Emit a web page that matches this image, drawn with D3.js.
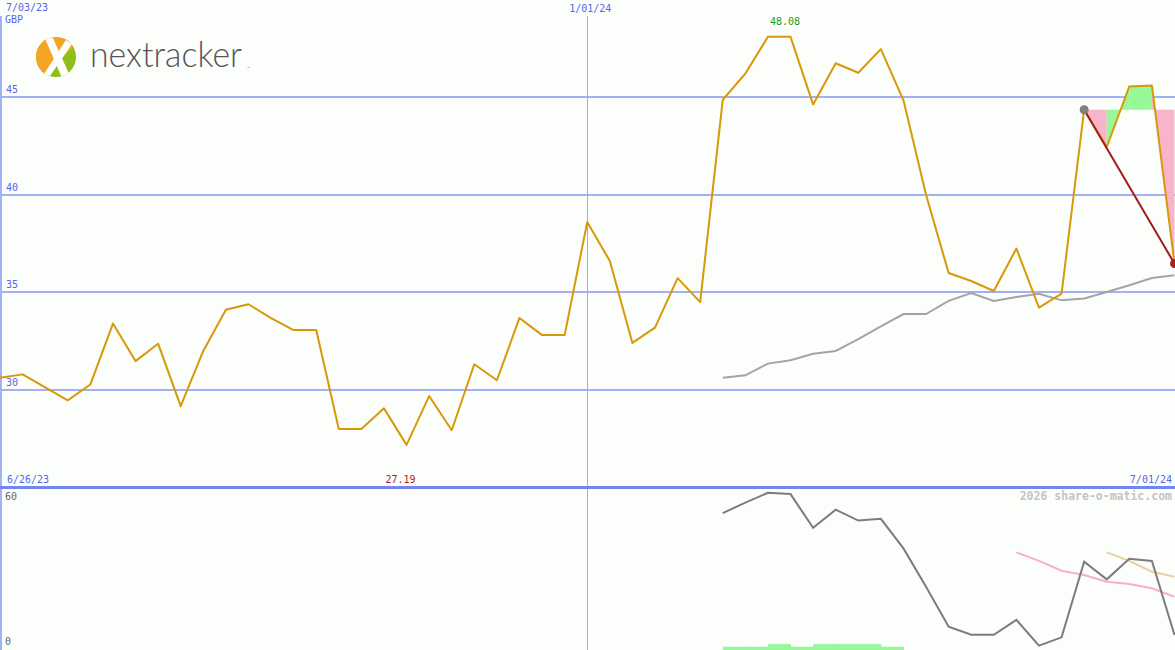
<!DOCTYPE html>
<html><head><meta charset="utf-8">
<script src="https://cdn.jsdelivr.net/npm/d3@7/dist/d3.min.js"></script>
<style>
html,body{margin:0;padding:0;background:#fcfefc;}
svg{display:block;}
</style></head>
<body>
<svg id="c" width="1175" height="650"></svg>
<script>
// ---- data ----
const weeks = d3.range(53); // weekly points, index 26 = 1/01/24
const price = [30.63,30.80,30.14,29.47,30.28,33.40,31.48,32.37,29.17,32.00,
  34.11,34.39,33.68,33.07,33.07,28.00,28.00,29.06,27.19,29.69,
  27.94,31.32,30.50,33.69,32.81,32.81,38.60,36.60,32.41,33.19,
  35.73,34.50,44.86,46.20,48.08,48.08,44.62,46.73,46.24,47.45,
  44.83,40.00,35.99,35.58,35.07,37.24,34.22,34.93,44.35,42.44,
  45.54,45.59,36.47];
const maStart = 32;
const movingAvg = [30.63,30.75,31.35,31.52,31.86,32.00,32.60,33.26,33.89,33.89,
  34.56,34.96,34.56,34.76,34.93,34.59,34.68,35.02,35.36,35.73,35.87];
const oscStart = 32;
const oscillator = [51.9,55.9,59.7,59.2,46.2,53.2,49.0,49.7,38.3,23.6,
  8.2,5.1,5.1,10.8,0.9,4.1,33.2,26.4,34.3,33.5,5.0];
const pinkStart = 45;
const pinkLine = [36.8,33.5,29.7,28.1,25.5,24.6,23.0,19.7];
const tanStart = 49;
const tanLine = [36.8,33.5,29.3,27.4];
const barStart = 32;
const volBars = [0.5,0.5,1.5,0.5,1.5,1.5,1.5,0.5];
const priceTicks = [45,40,35,30];
const oscTicks = [60,0];
const startIdx = 48, endIdx = 52;
const midIdx = 26;
const dateTopLeft = "7/03/23", dateTopMid = "1/01/24", dateBotLeft = "6/26/23", dateBotRight = "7/01/24";
const currency = "GBP";
const highLabel = "48.08", lowLabel = "27.19";
const brand = "nextracker";
const credit = "2026 share-o-matic.com";

// ---- scales ----
const W = 1175, H = 650;
const x = d3.scaleLinear().domain([0,52]).range([0,1174.5]);
const y = d3.scaleLinear().domain([30,45]).range([390,97]);
const y2 = d3.scaleLinear().domain([0,60]).range([648,492]);
const svg = d3.select("#c");
const mono = "'DejaVu Sans Mono', 'Liberation Mono', monospace";
const blue = "#5566ee";

svg.append("rect").attr("width",W).attr("height",H).attr("fill","#fcfefc");

// gridlines
svg.append("g").selectAll("line").data(priceTicks).join("line")
  .attr("x1",0).attr("x2",W).attr("y1",d=>Math.round(y(d))).attr("y2",d=>Math.round(y(d)))
  .attr("stroke","#a4b0f4").attr("stroke-width",2).attr("shape-rendering","crispEdges");
svg.append("line").attr("x1",Math.round(x(midIdx))+0.5).attr("x2",Math.round(x(midIdx))+0.5)
  .attr("y1",16).attr("y2",H).attr("stroke","#9aa8ff").attr("stroke-width",1).attr("shape-rendering","crispEdges");
svg.append("line").attr("x1",1).attr("x2",1).attr("y1",16).attr("y2",H)
  .attr("stroke","#a4b0f4").attr("stroke-width",2).attr("shape-rendering","crispEdges");
svg.append("line").attr("x1",0).attr("x2",W).attr("y1",487).attr("y2",487)
  .attr("stroke","#7585f0").attr("stroke-width",3).attr("shape-rendering","crispEdges");

// tick labels
svg.append("g").selectAll("text").data(priceTicks).join("text")
  .attr("x",6).attr("y",d=>y(d)-4).text(d=>d)
  .attr("font-family",mono).attr("font-size",10).attr("fill",blue);
svg.append("text").attr("x",6).attr("y",11).text(dateTopLeft).attr("font-family",mono).attr("font-size",10).attr("fill",blue);
svg.append("text").attr("x",5).attr("y",23).text(currency).attr("font-family",mono).attr("font-size",10).attr("fill",blue);
svg.append("text").attr("x",x(midIdx)+3).attr("y",12).attr("text-anchor","middle").text(dateTopMid).attr("font-family",mono).attr("font-size",10).attr("fill",blue);
svg.append("text").attr("x",7).attr("y",483).text(dateBotLeft).attr("font-family",mono).attr("font-size",10).attr("fill",blue);
svg.append("text").attr("x",1172).attr("y",483).attr("text-anchor","end").text(dateBotRight).attr("font-family",mono).attr("font-size",10).attr("fill",blue);
svg.append("g").selectAll("text").data(oscTicks).join("text")
  .attr("x",5).attr("y",d=>d===0?645:500).text(d=>d)
  .attr("font-family",mono).attr("font-size",10).attr("fill","#666");
svg.append("text").attr("x",1172).attr("y",500).attr("text-anchor","end").text(credit)
  .attr("font-family",mono).attr("font-size",11.5).attr("font-weight","bold").attr("fill","#c4c4c4");

// high/low labels
const hi = d3.maxIndex(price), lo = d3.minIndex(price);
svg.append("text").attr("x",x(hi)+17).attr("y",25).attr("text-anchor","middle").text(highLabel)
  .attr("font-family",mono).attr("font-size",10).attr("fill","#229922");
svg.append("text").attr("x",x(lo)-6).attr("y",483).attr("text-anchor","middle").text(lowLabel)
  .attr("font-family",mono).attr("font-size",10).attr("fill","#aa1f1f");

// logo
const logo = svg.append("g");
logo.append("clipPath").attr("id","lc").append("circle").attr("cx",56).attr("cy",57).attr("r",20);
const lg = logo.append("g").attr("clip-path","url(#lc)");
lg.append("rect").attr("x",30).attr("y",30).attr("width",60).attr("height",60).attr("fill","#8fbf1a");
lg.append("path").attr("d","M30,30 L90,30 L30,90 Z").attr("fill","#f4a523");
lg.append("path").attr("d","M44,36 L52,36 L70,76 L62,78 Z").attr("fill","#fff");
lg.append("path").attr("d","M66,40 L72,44 L50,76 L44,74 Z").attr("fill","#fff");
logo.append("text").attr("x",90).attr("y",67).text(brand)
  .attr("font-family","Lato, 'Open Sans', sans-serif").attr("font-weight",300)
  .attr("font-size",35).attr("textLength",152).attr("lengthAdjust","spacingAndGlyphs").attr("fill","#555");
logo.append("text").attr("x",247).attr("y",69).text("™").attr("font-family","sans-serif").attr("font-size",3).attr("fill","#555");
</script>
<script>
// fill between price and reference level
const ref = price[startIdx];
const segs = d3.range(startIdx, endIdx);
svg.append("g").selectAll("path").data(segs).join("path")
  .attr("d",i=>`M${x(i)},${y(ref)}L${x(i)},${y(price[i])}L${x(i+1)},${y(price[i+1])}L${x(i+1)},${y(ref)}Z`)
  .attr("fill",i=>price[i+1] > ref ? "#98f898" : "#f8b4c8");

// MA line
const ma = movingAvg.map((v,k)=>[maStart+k,v]);
svg.append("path").datum(ma).attr("d",d3.line().x(d=>x(d[0])).y(d=>y(d[1])))
  .attr("fill","none").attr("stroke","#a4a4a4").attr("stroke-width",2);

// price line
svg.append("path").datum(weeks).attr("d",d3.line().x(i=>x(i)).y(i=>y(price[i])))
  .attr("fill","none").attr("stroke","#d89808").attr("stroke-width",2).attr("stroke-linejoin","round");

// trend line and dots
svg.append("line").attr("x1",x(startIdx)).attr("y1",y(price[startIdx])).attr("x2",x(endIdx)).attr("y2",y(price[endIdx]))
  .attr("stroke","#a01c1c").attr("stroke-width",2);
svg.append("circle").attr("cx",x(startIdx)).attr("cy",y(price[startIdx])).attr("r",4.5).attr("fill","#808080");
svg.append("circle").attr("cx",x(endIdx)).attr("cy",y(price[endIdx])).attr("r",4.5).attr("fill","#a82020");

// bottom panel
svg.append("g").selectAll("rect").data(volBars).join("rect")
  .attr("x",(d,k)=>x(barStart+k)).attr("width",(d,k)=>x(barStart+k+1)-x(barStart+k)+0.5)
  .attr("y",d=>y2(d)).attr("height",d=>650-y2(d)).attr("fill","#98f898");
svg.append("path").datum(pinkLine.map((v,k)=>[pinkStart+k,v])).attr("d",d3.line().x(d=>x(d[0])).y(d=>y2(d[1])))
  .attr("fill","none").attr("stroke","#f8b0c8").attr("stroke-width",2);
svg.append("path").datum(tanLine.map((v,k)=>[tanStart+k,v])).attr("d",d3.line().x(d=>x(d[0])).y(d=>y2(d[1])))
  .attr("fill","none").attr("stroke","#e8d0a0").attr("stroke-width",2);
svg.append("path").datum(oscillator.map((v,k)=>[oscStart+k,v])).attr("d",d3.line().x(d=>x(d[0])).y(d=>y2(d[1])))
  .attr("fill","none").attr("stroke","#7c7c7c").attr("stroke-width",2);
</script>
</body></html>
